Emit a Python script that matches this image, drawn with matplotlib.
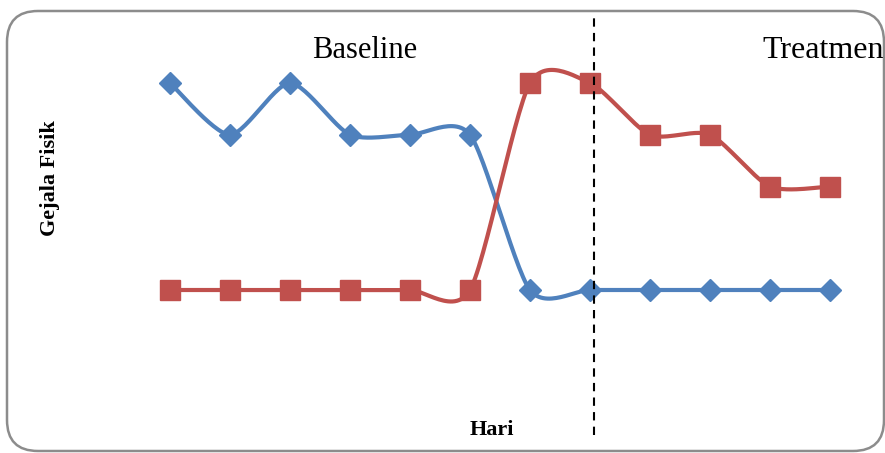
import numpy as np
import matplotlib
matplotlib.use("Agg")
import matplotlib.pyplot as plt
from matplotlib.patches import FancyBboxPatch

# Data (days 1..12)
hari = [1, 2, 3, 4, 5, 6, 7, 8, 9, 10, 11, 12]
seri_biru = [4, 3, 4, 3, 3, 3, 0, 0, 0, 0, 0, 0]
seri_merah = [0, 0, 0, 0, 0, 0, 4, 4, 3, 3, 2, 2]
batas_fase = 8.07

BIRU = "#4F81BD"
MERAH = "#C0504D"


# Excel-like smoothed line (cubic Hermite through the points)
def smooth(x, y, n=30, s=0.75):
    x = np.asarray(x, float)
    y = np.asarray(y, float)
    px = np.concatenate([[x[0]], x, [x[-1]]])
    py = np.concatenate([[y[0]], y, [y[-1]]])
    xs, ys = [], []
    t = np.linspace(0, 1, n)
    h00 = 2 * t ** 3 - 3 * t ** 2 + 1
    h10 = t ** 3 - 2 * t ** 2 + t
    h01 = -2 * t ** 3 + 3 * t ** 2
    h11 = t ** 3 - t ** 2
    for i in range(1, len(px) - 2):
        for p, out in ((px, xs), (py, ys)):
            m1 = s * (p[i + 1] - p[i - 1]) / 2
            m2 = s * (p[i + 2] - p[i]) / 2
            out.extend(h00 * p[i] + h10 * m1 + h01 * p[i + 1] + h11 * m2)
    return xs, ys


plt.rcParams["font.family"] = ["Liberation Serif", "DejaVu Serif"]

fig = plt.figure(figsize=(8.85, 4.53), dpi=100)

# rounded frame
frame = FancyBboxPatch((7 / 885, 2 / 453), 877 / 885, 440 / 453,
                       boxstyle="round,pad=0,rounding_size=0.035",
                       transform=fig.transFigure, facecolor="none",
                       edgecolor="#8c8c8c", linewidth=1.8,
                       mutation_aspect=885 / 453, zorder=-1)
fig.patches.append(frame)

# axes: x=1 -> 170px, y=0 -> 290px, y=4 -> 83px
ax = fig.add_axes([140 / 885, (453 - 340) / 453, 720 / 885, 300 / 453])
ax.set_xlim(0.5, 12.5)
ax.set_ylim(-50 / 51.75, 250 / 51.75)
ax.axis("off")

bx, by = smooth(hari, seri_biru)
mx, my = smooth(hari, seri_merah)
ax.plot(bx, by, color=BIRU, lw=3, solid_capstyle="round", clip_on=False)
ax.plot(mx, my, color=MERAH, lw=3, solid_capstyle="round", clip_on=False)
ax.plot(hari, seri_biru, ls="none", marker="D", ms=11.5, color=BIRU,
        clip_on=False)
ax.plot(hari, seri_merah, ls="none", marker="s", ms=15, color=MERAH,
        clip_on=False)

# phase line
ax.axvline(batas_fase, ymin=(340 - 435) / 300, ymax=(340 - 14) / 300,
           color="black", ls=(0, (4, 3)), lw=1.5, clip_on=False)

fig.text(365 / 885, 1 - 50 / 453, "Baseline", fontsize=22,
         ha="center", va="center")
fig.text(762 / 885, 1 - 50 / 453, "Treatmen", fontsize=23,
         ha="left", va="center")
fig.text(50 / 885, 1 - 178 / 453, "Gejala Fisik", fontsize=16,
         fontweight="bold", rotation=90, ha="center", va="center")
fig.text(492 / 885, 1 - 430 / 453, "Hari", fontsize=16,
         fontweight="bold", ha="center", va="center")

fig.savefig("out.png", dpi=100)
